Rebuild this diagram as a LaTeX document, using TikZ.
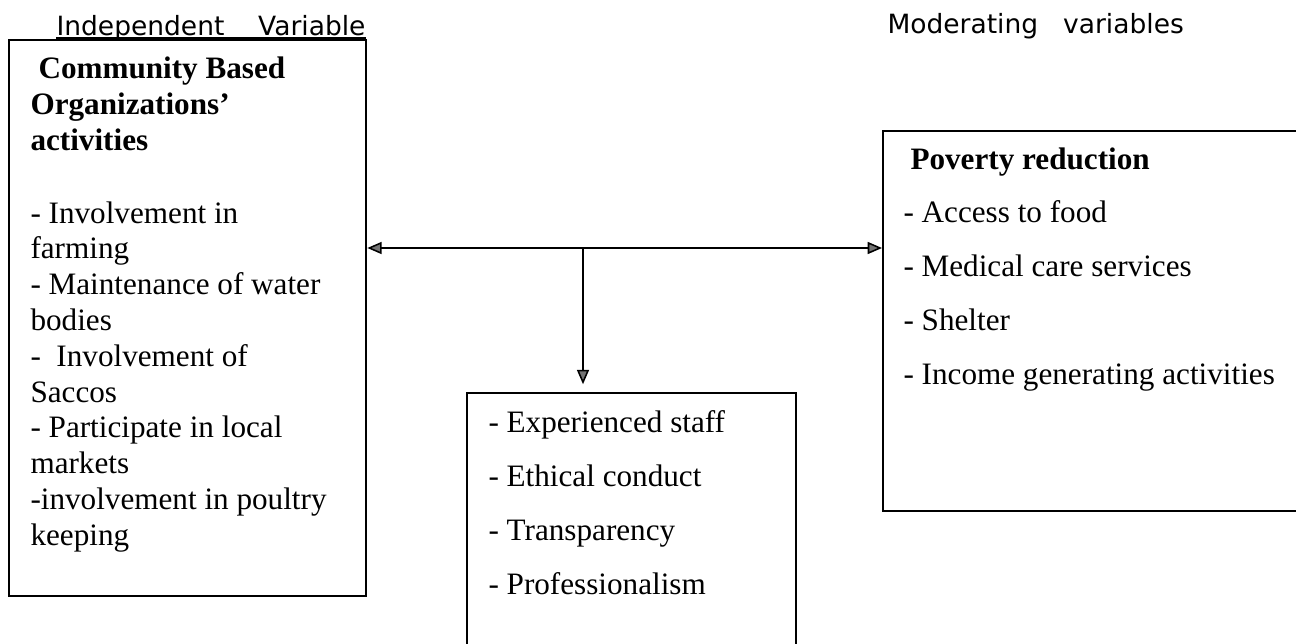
\documentclass[tikz,border=0pt]{standalone}
\usepackage{fontspec}
\setmainfont{Liberation Serif}
\newfontfamily\headfont{DejaVu Sans}
\usetikzlibrary{arrows.meta,positioning}
\newcommand{\px}{0.385pt}

\begin{document}
\begin{tikzpicture}[
  x=\px, y=-\px,
  box/.style={draw, line width=0.9pt, inner sep=0pt, anchor=north west},
  item/.style={anchor=base west, inner sep=0pt, font=\fontsize{12}{13.8}\selectfont},
  title/.style={item, font=\bfseries\fontsize{12}{13.8}\selectfont},
  head/.style={anchor=base west, inner sep=0pt, font=\headfont\fontsize{10.2}{12}\selectfont},
  link/.style={line width=0.6pt, -{Triangle[length=5.5pt, width=4.6pt, fill=black!55]}}
  ]
  \useasboundingbox (0,0) rectangle (1296,644);
  \clip (0,0) rectangle (1296,644);

  % headings
  \node[head] (indep) at (56,35) {Independent\hspace{13pt}Variable};
  \draw[line width=0.5pt] ([yshift=-1.2pt]indep.base west) -- ([yshift=-1.2pt]indep.base east);
  \node[head] (moder) at (887,33) {Moderating\hspace{9.6pt}variables};

  % boxes
  \node[box, minimum width=357*\px, minimum height=556*\px] (cbo) at (8,39) {};
  \node[box, minimum width=329*\px, minimum height=320*\px] (ethics) at (466,392) {};
  \node[box, minimum width=440*\px, minimum height=380*\px] (poverty) at (882,130) {};

  % independent variable
  \node[title] (cbo-t1) at (38,78) {Community Based};
  \node[title] (cbo-t2) at (30,114) {Organizations’};
  \node[title] (cbo-t3) at (30,150) {activities};
  \foreach \txt [count=\i from 0] in {- Involvement in, farming,
      - Maintenance of water, bodies, -\ \ Involvement of, Saccos,
      - Participate in local, markets, -involvement in poultry, keeping}
    \node[item] (cbo-\i) at (30,223+35.8*\i) {\txt};

  % dependent variable
  \node[title] (pov-t) at (910,169) {Poverty reduction};
  \foreach \txt [count=\i from 0] in {- Access to food, - Medical care services,
      - Shelter, - Income generating activities}
    \node[item] (pov-\i) at (903,222+54*\i) {\txt};

  % moderating variables
  \foreach \txt [count=\i from 0] in {- Experienced staff, - Ethical conduct,
      - Transparency, - Professionalism}
    \node[item] (eth-\i) at (488,432+54*\i) {\txt};

  % connectors
  \coordinate (hub) at (583,248);
  \draw[link] (hub) -- (cbo.east |- hub);
  \draw[link] (hub) -- (poverty.west |- hub);
  \draw[link, shorten >=3pt] (hub) -- (hub |- ethics.north);
\end{tikzpicture}
\end{document}
